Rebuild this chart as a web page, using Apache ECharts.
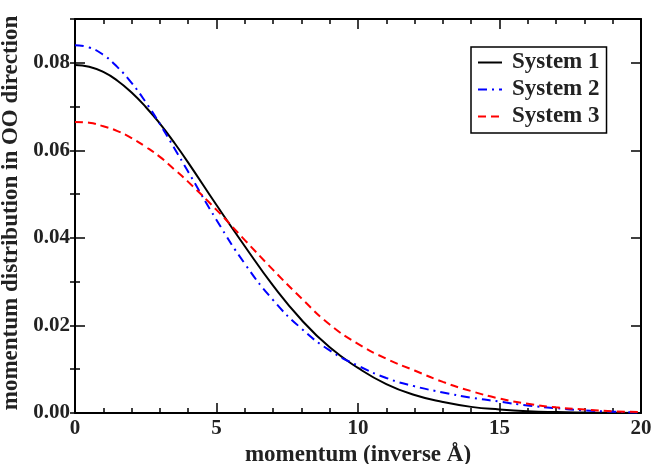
<!DOCTYPE html>
<html>
<head>
<meta charset="utf-8">
<script src="https://cdn.jsdelivr.net/npm/echarts@6/dist/echarts.min.js"></script>
<style>html,body{margin:0;padding:0;background:#fff}#c{width:651px;height:464px}</style>
</head>
<body>
<div id="c"></div>
<script>
var momentum = [0,0.5,1,1.5,2,2.5,3,3.5,4,5,6,7,8,9,10,11,12,13,14,15,16,17,18,19,20];
var system1 = [0.0795,0.0791,0.0779,0.0759,0.0732,0.0699,0.0661,0.0618,0.0572,0.0475,0.0381,0.0291,0.0213,0.0150,0.0103,0.0066,0.0041,0.0025,0.0014,0.0008,0.0004,0.0002,0.0001,0.00005,0.0000];
var system2 = [0.0840,0.0835,0.0818,0.0790,0.0754,0.0710,0.0660,0.0606,0.0551,0.0441,0.0341,0.0258,0.0193,0.0143,0.0108,0.0080,0.0061,0.0047,0.0035,0.0026,0.0017,0.0011,0.0006,0.0003,0.0001];
var system3 = [0.0665,0.0663,0.0655,0.0644,0.0628,0.0608,0.0585,0.0557,0.0528,0.0464,0.0395,0.0327,0.0262,0.0202,0.0158,0.0124,0.0097,0.0071,0.0050,0.0033,0.0021,0.0013,0.0008,0.0004,0.0002];
var seriesNames = ['System 1','System 2','System 3'];
var xTitle = 'momentum (inverse \u00C5)';
var yTitle = 'momentum distribution in OO direction';

function pairs(ys){ return momentum.map(function(x,i){ return [x, ys[i]]; }); }

var FONT = '"Liberation Serif", "DejaVu Serif", serif';
var axisLine = {show:true, onZero:false, lineStyle:{color:'#000', width:2}};

var chart = echarts.init(document.getElementById('c'), null, {renderer:'canvas'});
chart.setOption({
  animation:false,
  backgroundColor:'#fff',
  grid:{left:75, right:10, top:19, bottom:51, containLabel:false, outerBoundsMode:'none'},
  legend:{
    left:471, top:47, orient:'vertical',
    data:seriesNames,
    itemWidth:24, itemHeight:14, itemGap:4,
    padding:[4,7,5,6],
    borderColor:'#000', borderWidth:1.5,
    backgroundColor:'#fff',
    itemStyle:{opacity:0},
    textStyle:{fontFamily:FONT, fontWeight:'bold', fontSize:23, color:'#222', padding:[0,0,0,5]}
  },
  xAxis:[
    {type:'value', min:0, max:20, interval:5, position:'bottom',
     name:xTitle, nameLocation:'middle', nameGap:22,
     nameTextStyle:{fontFamily:FONT, fontWeight:'bold', fontSize:23, color:'#222'},
     axisLine:axisLine,
     axisTick:{show:true, inside:true, length:10, lineStyle:{color:'#000', width:1.5}},
     minorTick:{show:true, splitNumber:5, length:5, lineStyle:{color:'#000', width:1.5}},
     splitLine:{show:false},
     axisLabel:{fontFamily:FONT, fontWeight:'bold', fontSize:21, color:'#222', margin:5}},
    {type:'value', min:0, max:20, interval:5, position:'top',
     axisLine:axisLine,
     axisTick:{show:true, inside:true, length:10, lineStyle:{color:'#000', width:1.5}},
     minorTick:{show:true, splitNumber:5, length:5, lineStyle:{color:'#000', width:1.5}},
     splitLine:{show:false}, axisLabel:{show:false}}
  ],
  yAxis:[
    {type:'value', min:0, max:0.09, interval:0.02, position:'left',
     name:yTitle, nameLocation:'middle', nameGap:38,
     nameTextStyle:{fontFamily:FONT, fontWeight:'bold', fontSize:23, color:'#222', padding:[0,0,0,6]},
     axisLine:axisLine,
     axisTick:{show:true, inside:true, length:10, lineStyle:{color:'#000', width:1.5}},
     splitLine:{show:false},
     axisLabel:{fontFamily:FONT, fontWeight:'bold', fontSize:21, color:'#222', margin:5, showMaxLabel:false,
       formatter:function(v){ return v.toFixed(2); }}},
    {type:'value', min:0, max:0.09, interval:0.01, position:'left',
     axisLine:{show:false},
     axisTick:{show:true, inside:true, length:5, lineStyle:{color:'#000', width:1.5}},
     splitLine:{show:false}, axisLabel:{show:false}},
    {type:'value', min:0, max:0.09, interval:0.02, position:'right',
     axisLine:axisLine,
     axisTick:{show:true, inside:true, length:10, lineStyle:{color:'#000', width:1.5}},
     splitLine:{show:false}, axisLabel:{show:false}},
    {type:'value', min:0, max:0.09, interval:0.01, position:'right',
     axisLine:{show:false},
     axisTick:{show:true, inside:true, length:5, lineStyle:{color:'#000', width:1.5}},
     splitLine:{show:false}, axisLabel:{show:false}}
  ],
  series:[
    {name:seriesNames[0], type:'line', smooth:0.5, symbol:'none', data:pairs(system1),
     lineStyle:{color:'#000', width:2, type:'solid'}, itemStyle:{color:'#000'}},
    {name:seriesNames[1], type:'line', smooth:0.5, symbol:'none', data:pairs(system2),
     lineStyle:{color:'#0000ff', width:2, type:[9,5,2,5]}, itemStyle:{color:'#0000ff'}},
    {name:seriesNames[2], type:'line', smooth:0.5, symbol:'none', data:pairs(system3),
     lineStyle:{color:'#ff0000', width:2, type:[8,5]}, itemStyle:{color:'#ff0000'}}
  ]
});
</script>
</body>
</html>
